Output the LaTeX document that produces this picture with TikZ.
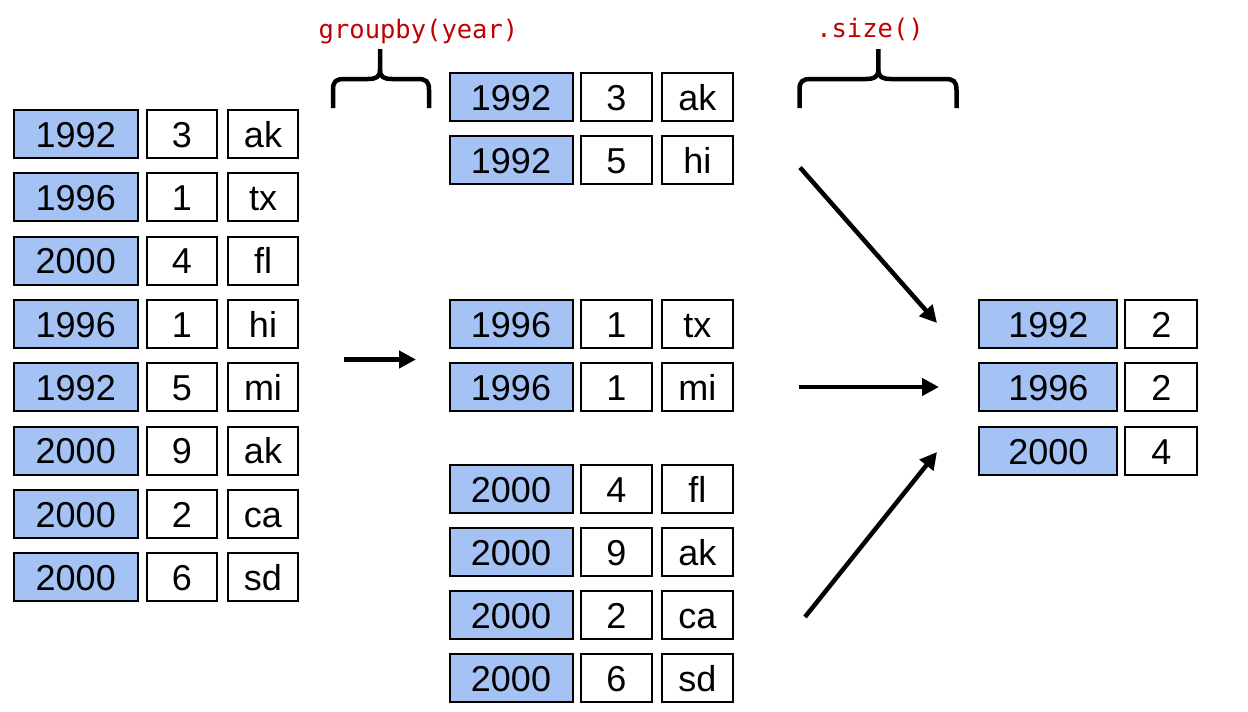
\documentclass[tikz,border=0pt]{standalone}
\usepackage{fontspec}
\setmainfont{Liberation Sans}
\newfontfamily\codefont{DejaVu Sans Mono}
\usetikzlibrary{arrows.meta}
\definecolor{yrblue}{HTML}{A4C2F4}
\definecolor{codered}{HTML}{C00000}
\tikzset{
  cellbase/.style={draw=black, line width=2pt, inner sep=0pt, minimum height=48pt,
    text height=26pt, text depth=0pt, font=\fontsize{36}{40}\selectfont},
  yrcell/.style={cellbase, fill=yrblue},
  valcell/.style={cellbase, fill=white},
  flowarrow/.style={line width=4.5pt, -{Triangle[length=17pt,width=17pt]}},
  bracepath/.style={line width=4.5pt, line cap=butt, line join=round},
  codelabel/.style={anchor=base, text=codered, font=\codefont\fontsize{25.5}{30}\selectfont, inner sep=0pt}
}
\begin{document}
\begin{tikzpicture}[x=1pt,y=-1pt]
\useasboundingbox (0,0) rectangle (1248,712);
% left table
\foreach \y/\a/\b/\c [count=\i] in {134/1992/3/ak,197.3/1996/1/tx,260.6/2000/4/fl,324/1996/1/hi,387.3/1992/5/mi,450.6/2000/9/ak,514/2000/2/ca,577.3/2000/6/sd}{
  \node[yrcell, minimum width=124.5pt] (L\i a) at (75.75,\y) {\a};
  \node[valcell, minimum width=70pt] (L\i b) at (182,\y) {\b};
  \node[valcell, minimum width=70pt] (L\i c) at (263,\y) {\c};
}
% middle groups
\foreach \y/\a/\b/\c [count=\i] in {97/1992/3/ak,160/1992/5/hi,324/1996/1/tx,387/1996/1/mi,489/2000/4/fl,552.3/2000/9/ak,615.3/2000/2/ca,678/2000/6/sd}{
  \node[yrcell, minimum width=123pt] (M\i a) at (511,\y) {\a};
  \node[valcell, minimum width=71.5pt] (M\i b) at (616.3,\y) {\b};
  \node[valcell, minimum width=71.5pt] (M\i c) at (697.3,\y) {\c};
}
% right result
\foreach \y/\a/\b [count=\i] in {324/1992/2,387.3/1996/2,451/2000/4}{
  \node[yrcell, minimum width=138pt] (R\i a) at (1048.3,\y) {\a};
  \node[valcell, minimum width=72pt] (R\i b) at (1161.3,\y) {\b};
}
% labels
\node[codelabel] (gb) at (418.5,38) {groupby(year)};
\node[codelabel] (sz) at (870,37) {.size()};
% braces
\draw[bracepath] (333,108) -- (333,90) .. controls (333,81) and (336,79) .. (345,79)
  -- (368,79) .. controls (376,79) and (380,77) .. (380,70) -- (380,49);
\draw[bracepath] (429,108) -- (429,90) .. controls (429,81) and (426,79) .. (417,79)
  -- (392,79) .. controls (384,79) and (380,77) .. (380,70);
\draw[bracepath] (799.5,108) -- (799.5,90) .. controls (799.5,81) and (802.5,79) .. (811.5,79)
  -- (866,79) .. controls (874,79) and (878.3,77) .. (878.3,70) -- (878.3,49);
\draw[bracepath] (956.5,108) -- (956.5,90) .. controls (956.5,81) and (953.5,79) .. (944.5,79)
  -- (890.6,79) .. controls (882.6,79) and (878.3,77) .. (878.3,70);
% arrows
\coordinate (a1s) at (344,359.5);
\coordinate (a1e) at (416,359.5);
\coordinate (a2s) at (800,167.5);
\coordinate (a2e) at (937,323);
\coordinate (a3s) at (799,387);
\coordinate (a3e) at (939,387);
\coordinate (a4s) at (805,617);
\coordinate (a4e) at (937,452);
\draw[flowarrow] (a1s) -- (a1e);
\draw[flowarrow] (a2s) -- (a2e);
\draw[flowarrow] (a3s) -- (a3e);
\draw[flowarrow] (a4s) -- (a4e);
\end{tikzpicture}
\end{document}
